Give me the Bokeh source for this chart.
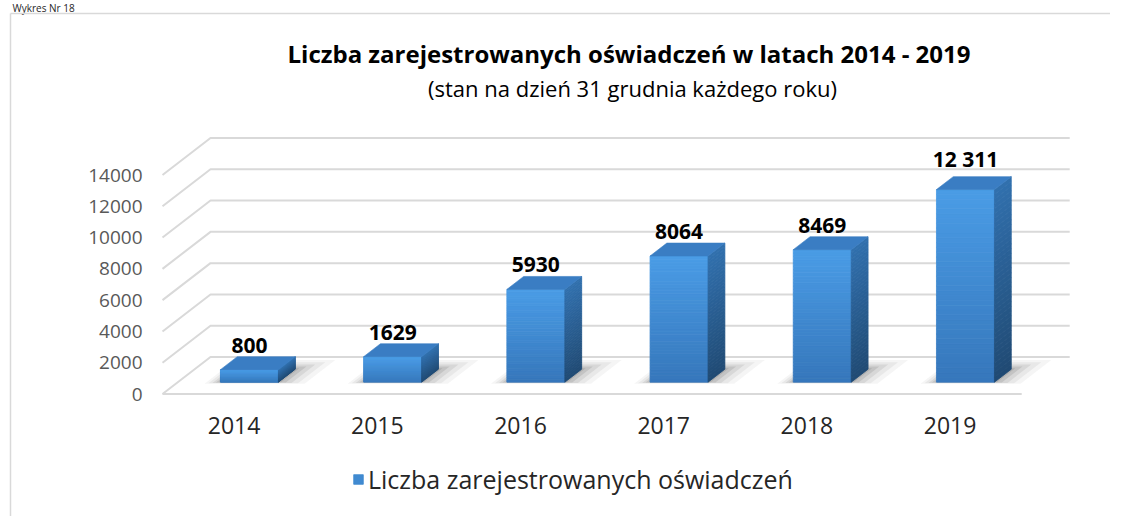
from bokeh.plotting import figure
from bokeh.models import Range1d, Legend, LegendItem, ColumnDataSource
from bokeh.core.properties import value
from bokeh.embed import file_html
from bokeh.resources import INLINE

# ---------------- data ----------------
years = ["2014", "2015", "2016", "2017", "2018", "2019"]
counts = [800, 1629, 5930, 8064, 8469, 12311]
y_ticks = [0, 2000, 4000, 6000, 8000, 10000, 12000, 14000]
caption_text = "Wykres Nr 18"
title_text = "Liczba zarejestrowanych oświadczeń w latach 2014 - 2019"
subtitle_text = "(stan na dzień 31 grudnia każdego roku)"
series_name = "Liczba zarejestrowanych oświadczeń"

# ---------------- geometry (pixels) ----------------
W, H = 1110, 516
X0_PX = 162.0          # front-left floor corner, from left
Y0_PX = 393.5          # front floor line, from top
PX_PER_CAT = 143.2
PX_PER_VAL = 219.0 / 14000
DEPTH_X_PX, DEPTH_Y_PX = 48.0, 37.0
F0, F1 = 0.32, 0.67    # bar depth (fraction of floor depth)
HALF_W = 29.0 / PX_PER_CAT

def dx(px):
    return px / PX_PER_CAT

def dy(px):
    return px / PX_PER_VAL

def fx(px):
    return (px - X0_PX) / PX_PER_CAT

def fy(px):
    return (Y0_PX - px) / PX_PER_VAL

DX, DY = dx(DEPTH_X_PX), dy(DEPTH_Y_PX)
FONT = "Open Sans"

p = figure(width=W, height=H, output_backend="svg", toolbar_location=None,
           x_range=Range1d(fx(0), fx(W)), y_range=Range1d(fy(H), fy(0)),
           x_axis_location=None, y_axis_location=None, min_border=0)
p.grid.visible = False
p.outline_line_color = None
p.background_fill_color = "white"
p.border_fill_color = "white"

# caption above the chart box
p.text(x=[fx(12)], y=[fy(0)], text=[caption_text], text_align="left",
       text_baseline="top", text_font=value(FONT), text_font_size="10px",
       text_color="#262626")

# outer frame (top and left edges)
p.multi_line(xs=[[fx(10), fx(W)], [fx(10), fx(10)]], ys=[[fy(13), fy(13)], [fy(13), fy(H)]],
             line_color="#d9d9d9", line_width=1.5)

# ---------------- 3D grid ----------------
n = len(years)
gx, gy = [], []
for t in y_ticks:
    gx.append([0, DX, n + DX])
    gy.append([t, t + DY, t + DY])
gx.append([0, n])
gy.append([0, 0])
p.multi_line(xs=gx, ys=gy, line_color="#d9d9d9", line_width=2)

# y tick labels
p.text(x=[-dx(20)] * len(y_ticks), y=y_ticks, text=[str(t) for t in y_ticks],
       text_align="right", text_baseline="middle", text_font=value(FONT),
       text_font_size="19px", text_color="#595959")

# category labels
p.text(x=[i + 0.5 for i in range(n)], y=[-dy(31.5)] * n, text=years,
       text_align="center", text_baseline="middle", text_font=value(FONT),
       text_font_size="23px", text_color="#262626")

# ---------------- shadows ----------------
for grow, alpha in [(1.0, 0.05), (0.75, 0.07), (0.5, 0.10), (0.28, 0.13), (0.1, 0.15)]:
    sx, sy = [], []
    for i, v in enumerate(counts):
        xl = i + 0.5 - HALF_W - dx(14) * grow
        xr = i + 0.5 + HALF_W + dx(28) * grow
        fa = F0 - 0.04 * grow
        fb = F1 + 0.25 * grow
        sx.append([xl + fa * DX, xr + fa * DX, xr + fb * DX, xl + fb * DX])
        sy.append([fa * DY, fa * DY, fb * DY, fb * DY])
    p.patches(xs=sx, ys=sy, fill_color="#404040", fill_alpha=alpha, line_color=None)

# ---------------- bars ----------------
def lerp(c1, c2, t):
    a = [int(c1[k:k + 2], 16) for k in (1, 3, 5)]
    b = [int(c2[k:k + 2], 16) for k in (1, 3, 5)]
    return "#%02x%02x%02x" % tuple(round(a[j] + (b[j] - a[j]) * t) for j in range(3))

NB = 40
fl, fr, fb_, ft, fc = [], [], [], [], []
sxs, sys_, sc = [], [], []
txs, tys = [], []
for i, v in enumerate(counts):
    xl = i + 0.5 - HALF_W
    xr = i + 0.5 + HALF_W
    for k in range(NB):
        t0 = k / NB
        t1 = (k + 1) / NB
        fl.append(xl + F0 * DX)
        fr.append(xr + F0 * DX)
        fb_.append(F0 * DY + v * t0)
        ft.append(F0 * DY + v * t1)
        fc.append(lerp("#3677bb", "#4a9ce6", (k + 0.5) / NB))
        sxs.append([xr + F0 * DX, xr + F1 * DX, xr + F1 * DX, xr + F0 * DX])
        sys_.append([F0 * DY + v * t0, F1 * DY + v * t0, F1 * DY + v * t1, F0 * DY + v * t1])
        sc.append(lerp("#204a73", "#3170ae", (k + 0.5) / NB))
    txs.append([xl + F0 * DX, xr + F0 * DX, xr + F1 * DX, xl + F1 * DX])
    tys.append([v + F0 * DY, v + F0 * DY, v + F1 * DY, v + F1 * DY])

front = p.quad(source=ColumnDataSource(dict(left=fl, right=fr, bottom=fb_, top=ft, c=fc)),
               left="left", right="right", bottom="bottom", top="top",
               fill_color="c", line_color="c", line_width=0.8)
p.patches(source=ColumnDataSource(dict(xs=sxs, ys=sys_, c=sc)), xs="xs", ys="ys",
          fill_color="c", line_color="c", line_width=0.8)
p.patches(xs=txs, ys=tys, fill_color="#3a7dc3", line_color="#3a7dc3", line_width=0.6)

# data labels
def fmt(v):
    return f"{v:,}".replace(",", " ") if v >= 10000 else str(v)

p.text(x=[i + 0.5 + F0 * DX for i in range(n)],
       y=[v + F1 * DY + dy(4) for v in counts],
       text=[fmt(v) for v in counts], text_align="center", text_baseline="bottom",
       text_font=value(FONT), text_font_style="bold", text_font_size="21px",
       text_color="#000000")

# titles
p.text(x=[fx(628.5)], y=[fy(53)], text=[title_text], text_align="center",
       text_baseline="middle", text_font=value(FONT), text_font_style="bold",
       text_font_size="24px", text_color="#000000")
p.text(x=[fx(632)], y=[fy(87)], text=[subtitle_text], text_align="center",
       text_baseline="middle", text_font=value(FONT), text_font_size="22px",
       text_color="#000000")

# legend
legend = Legend(items=[LegendItem(label=series_name, renderers=[front], index=NB // 2)],
                location=(352, 20), orientation="horizontal",
                glyph_width=12, glyph_height=12, label_standoff=4,
                padding=0, margin=0, border_line_color=None,
                background_fill_alpha=0, label_text_font=FONT,
                label_text_font_size="25px", label_text_color="#262626")
p.add_layout(legend)

open("out.html", "w").write(file_html(p, INLINE))
